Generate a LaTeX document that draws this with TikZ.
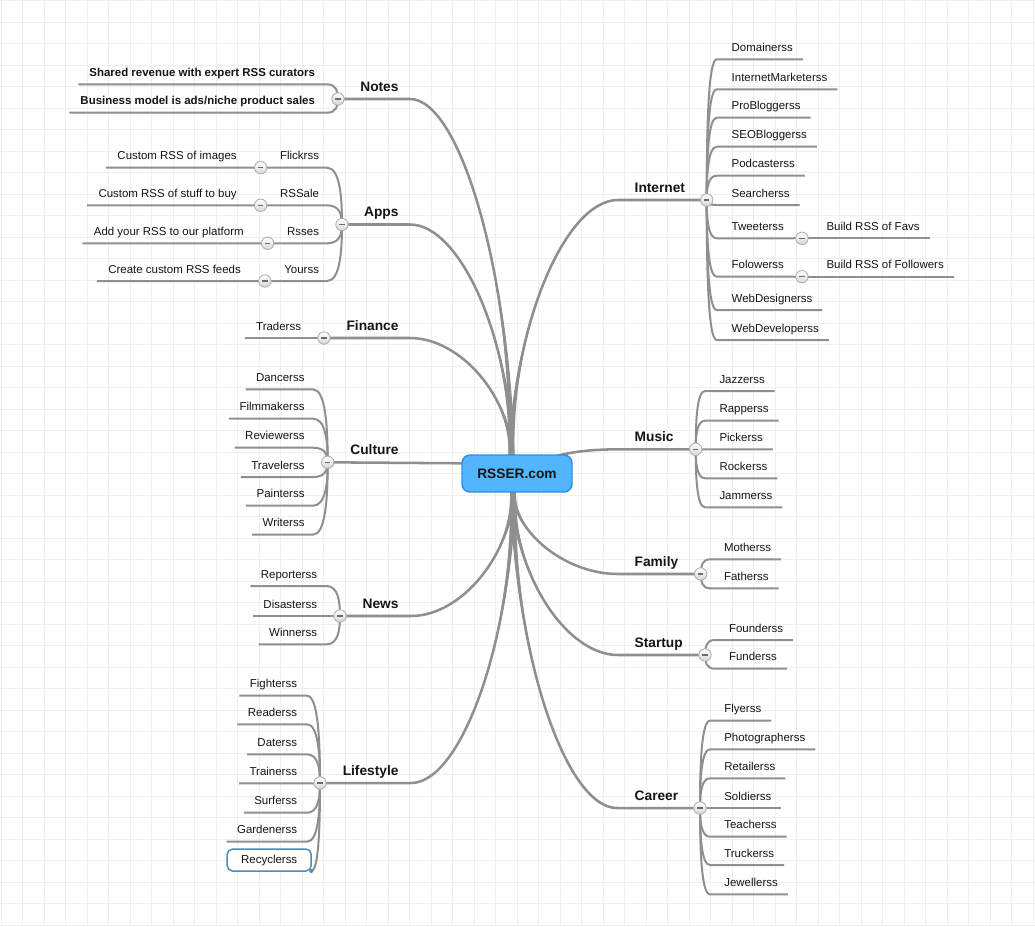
\documentclass[tikz,border=0pt]{standalone}
\usepackage{fontspec}
\setmainfont{Liberation Sans}
\usetikzlibrary{calc,positioning}

\definecolor{linegray}{HTML}{8F8F8F}
\definecolor{ink}{HTML}{151515}
\definecolor{hubfill}{HTML}{52B5FF}
\definecolor{hubedge}{HTML}{2F8FE8}
\definecolor{btnedge}{HTML}{ABABAB}
\definecolor{btngray}{HTML}{D6D6D6}
\definecolor{btnminus}{HTML}{6A6A6A}
\definecolor{gridcol}{HTML}{EEF1E8}
\definecolor{selblue}{HTML}{4B8DB6}

\pgfdeclarelayer{back}
\pgfsetlayers{back,main}

\tikzset{
  hub/.style={rectangle, rounded corners=6pt, draw=hubedge, line width=1.1pt, fill=hubfill,
    minimum width=82.5pt, minimum height=27.75pt, text=ink,
    font=\fontsize{10.3}{12}\selectfont\bfseries},
  topic/.style={inner sep=0pt, outer sep=0pt, text=ink, font=\fontsize{10.3}{12}\selectfont\bfseries},
  leaf/.style={inner sep=0pt, outer sep=0pt, text=ink, font=\fontsize{8.6}{10}\selectfont},
  noteleaf/.style={leaf, font=\fontsize{8.6}{10}\selectfont\bfseries},
  btn/.style={circle, draw=btnedge, line width=0.6pt, top color=white, bottom color=btngray,
    minimum size=9.3pt, inner sep=0pt, outer sep=0pt,
    path picture={\draw[line width=1.1pt, btnminus]
      ([xshift=-2pt]path picture bounding box.center) -- ([xshift=2pt]path picture bounding box.center);}},
  twig/.style={draw=linegray, line width=1.5pt},
  trunk/.style={draw=linegray, line width=1.9pt},
  gridline/.style={draw=gridcol, line width=0.75pt},
  % curve from a hub point out to a topic line
  branch/.style={to path={.. controls ($(\tikztostart)!.5!(\tikztotarget |- \tikztostart)$)
    and ($(\tikztotarget)!.5!(\tikztotarget |- \tikztostart)$) .. (\tikztotarget)}},
  % curve from a button to a child line
  kid/.style={to path={.. controls ($(\tikztostart)!.5!(\tikztostart |- \tikztotarget)$)
    and ($(\tikztotarget)!.85!(\tikztostart |- \tikztotarget)$) .. (\tikztotarget)}},
}

\begin{document}
\begin{tikzpicture}[x=0.75pt, y=-0.75pt]
\useasboundingbox (0,0) rectangle (1035,926);

% grid paper
\begin{pgfonlayer}{back}
\fill[white] (0,0) rectangle (1035,926);
\foreach \i in {0,...,48}
  \draw[gridline] ({1.3+21.5*\i},0) -- ({1.3+21.5*\i},926);
\foreach \j in {0,...,43}
  \draw[gridline] (0,{0.7+21.5*\j}) -- (1035,{0.7+21.5*\j});
\end{pgfonlayer}

% centre
\node[hub] (hub) at (517,473.5) {RSSER.com};
\coordinate (hubT) at (511.5,457);
\coordinate (hubB) at (513,490);
\coordinate (hubL) at (463,463.3);
\coordinate (hubM) at (556,456);

% left topics
\node[topic, anchor=base east] (notes) at (398.5,91) {Notes};
\node[btn] (notesB) at (338,99) {};
\coordinate (notesE) at (410,99);
\node[topic, anchor=base east] (apps) at (398.5,216.5) {Apps};
\node[btn] (appsB) at (342,224.5) {};
\coordinate (appsE) at (410,224.5);
\node[topic, anchor=base east] (fin) at (398.5,330) {Finance};
\node[btn] (finB) at (324,338) {};
\coordinate (finE) at (410,338);
\node[topic, anchor=base east] (cult) at (398.5,454.3) {Culture};
\node[btn] (cultB) at (327.7,462.3) {};
\node[topic, anchor=base east] (news) at (398.5,608) {News};
\node[btn] (newsB) at (340,616) {};
\coordinate (newsE) at (411,616);
\node[topic, anchor=base east] (life) at (398.5,775) {Lifestyle};
\node[btn] (lifeB) at (320,783) {};
\coordinate (lifeE) at (411,783);

% right topics
\node[topic, anchor=base west] (int) at (634.7,192) {Internet};
\node[btn] (intB) at (706.7,200) {};
\coordinate (intE) at (618,200);
\node[topic, anchor=base west] (mus) at (634.7,441.3) {Music};
\node[btn] (musB) at (695.7,449.3) {};
\coordinate (musE) at (620,449.3);
\node[topic, anchor=base west] (fam) at (634.7,566) {Family};
\node[btn] (famB) at (700.7,574) {};
\coordinate (famE) at (618,574);
\node[topic, anchor=base west] (start) at (634.7,647) {Startup};
\node[btn] (startB) at (705,655) {};
\coordinate (startE) at (618,655);
\node[topic, anchor=base west] (car) at (634.7,800) {Career};
\node[btn] (carB) at (700,808) {};
\coordinate (carE) at (617,808);

% main branches
\begin{pgfonlayer}{back}
\foreach \b/\e/\h in {notesB/notesE/hubT, appsB/appsE/hubT, finB/finE/hubT, intB/intE/hubT,
    newsB/newsE/hubB, lifeB/lifeE/hubB, famB/famE/hubB, startB/startE/hubB, carB/carE/hubB}{
  \draw[trunk] (\b.center) -- (\e) to[branch] (\h);
  \fill[linegray] (\e) .. controls ($(\e)!.5!(\h |- \e)$) and ($(\h)!.5!(\h |- \e)$) .. ($(\h)+(-3,0)$)
    -- ($(\h)+(3,0)$) .. controls ($(\h)!.5!(\h |- \e)$) and ($(\e)!.5!(\h |- \e)$) .. (\e) -- cycle;
}
\draw[trunk] (cultB.center) -- (hubL);
\draw[trunk] (musB.center) -- (musE) .. controls (590,449.3) and (572,452) .. (hubM);
\end{pgfonlayer}

% Notes
\node[noteleaf, anchor=base east] (notes1) at (315,76.3) {Shared revenue with expert RSS curators};
\node[noteleaf, anchor=base east] (notes2) at (315,104.7) {Business model is ads/niche product sales};
\coordinate (notesk1) at (327,84.3);
\coordinate (notesk2) at (327,112.7);
\begin{pgfonlayer}{back}
\foreach \i in {1,2}
  \draw[twig] (notesB.center) to[kid] (notesk\i) -- ($(notes\i.base west)+(-11,8)$);
\end{pgfonlayer}

% Apps
\foreach \ly/\txt/\sub [count=\i] in {167.7/Flickrss/Custom RSS of images,
    205.3/RSSale/Custom RSS of stuff to buy, 243.3/Rsses/Add your RSS to our platform,
    281/Yourss/Create custom RSS feeds}{
  \node[leaf, anchor=base east] (app\i) at (319,\ly-8) {\txt};
  \node[btn] (appb\i) at ($(app\i.base west)+(-19.5,8)$) {};
  \node[leaf, anchor=base east] (appsub\i) at ($(appb\i)+(-24,-8)$) {\sub};
  \coordinate (appk\i) at (327,\ly);
  \begin{pgfonlayer}{back}
    \draw[twig] (appsB.center) to[kid] (appk\i) -- (appb\i.center) -- ($(appsub\i.base west)+(-11.5,8)$);
  \end{pgfonlayer}
}

% Finance
\node[leaf, anchor=base east] (fin1) at (301,330) {Traderss};
\begin{pgfonlayer}{back}
\draw[twig] (finB.center) -- ($(fin1.base west)+(-11.5,8)$);
\end{pgfonlayer}

% Culture
\foreach \ly/\txt [count=\i] in {389.3/Dancerss, 418.7/Filmmakerss, 447.7/Reviewerss,
    477/Travelerss, 505.7/Painterss, 534.7/Writerss}{
  \node[leaf, anchor=base east] (cult\i) at (304.5,\ly-8) {\txt};
  \coordinate (cultk\i) at (313,\ly);
  \begin{pgfonlayer}{back}
    \draw[twig] (cultB.center) to[kid] (cultk\i) -- ($(cult\i.base west)+(-10.5,8)$);
  \end{pgfonlayer}
}

% News
\foreach \ly/\txt [count=\i] in {586/Reporterss, 616/Disasterss, 644.3/Winnerss}{
  \node[leaf, anchor=base east] (news\i) at (317,\ly-8) {\txt};
  \coordinate (newsk\i) at (326.5,\ly);
  \begin{pgfonlayer}{back}
    \draw[twig] (newsB.center) to[kid] (newsk\i) -- ($(news\i.base west)+(-10.5,8)$);
  \end{pgfonlayer}
}

% Lifestyle
\foreach \ly/\txt [count=\i] in {695.7/Fighterss, 724.3/Readerss, 754.3/Daterss,
    783.3/Trainerss, 812.7/Surferss, 841.7/Gardenerss}{
  \node[leaf, anchor=base east] (life\i) at (297,\ly-8) {\txt};
  \coordinate (lifek\i) at (307,\ly);
  \begin{pgfonlayer}{back}
    \draw[twig] (lifeB.center) to[kid] (lifek\i) -- ($(life\i.base west)+(-10.5,8)$);
  \end{pgfonlayer}
}
\node[leaf, draw=selblue, line width=1.1pt, rounded corners=4pt, fill=white,
  minimum width=63pt, minimum height=16.5pt, text height=6.2pt, text depth=1.6pt] (life7) at (269.2,860) {Recyclerss};
\fill[selblue] (life7.south east) circle[radius=1.5pt];
\begin{pgfonlayer}{back}
\draw[twig] (lifeB.center) to[kid] (life7.south east);
\end{pgfonlayer}

% Internet
\foreach \ly/\txt [count=\i] in {59.3/Domainerss, 89.3/InternetMarketerss, 117.7/ProBloggerss,
    146.7/SEOBloggerss, 175.7/Podcasterss, 205/Searcherss, 238.3/Tweeterss, 276.7/Folowerss,
    310/WebDesignerss, 340/WebDeveloperss}{
  \node[leaf, anchor=base west] (int\i) at (731.7,\ly-8) {\txt};
  \coordinate (intk\i) at (716.7,\ly);
  \begin{pgfonlayer}{back}
    \draw[twig] (intB.center) to[kid] (intk\i) -- ($(int\i.base east)+(10,8)$);
  \end{pgfonlayer}
}
\foreach \k/\sub in {7/Build RSS of Favs, 8/Build RSS of Followers}{
  \node[btn] (intb\k) at ($(int\k.base east)+(18,8)$) {};
  \node[leaf, anchor=base west] (intsub\k) at ($(intb\k)+(24.6,-8)$) {\sub};
  \begin{pgfonlayer}{back}
    \draw[twig] ($(int\k.base east)+(10,8)$) -- ($(intsub\k.base east)+(10.4,8)$);
  \end{pgfonlayer}
}

% Music
\foreach \ly/\txt [count=\i] in {391/Jazzerss, 420.7/Rapperss, 449.3/Pickerss,
    478.3/Rockerss, 507.3/Jammerss}{
  \node[leaf, anchor=base west] (mus\i) at (719.5,\ly-8) {\txt};
  \coordinate (musk\i) at (705,\ly);
  \begin{pgfonlayer}{back}
    \draw[twig] (musB.center) to[kid] (musk\i) -- ($(mus\i.base east)+(10,8)$);
  \end{pgfonlayer}
}

% Family
\foreach \ly/\txt [count=\i] in {559.3/Motherss, 588.3/Fatherss}{
  \node[leaf, anchor=base west] (fam\i) at (724,\ly-8) {\txt};
  \coordinate (famk\i) at (710,\ly);
  \begin{pgfonlayer}{back}
    \draw[twig] (famB.center) to[kid] (famk\i) -- ($(fam\i.base east)+(10,8)$);
  \end{pgfonlayer}
}

% Startup
\foreach \ly/\txt [count=\i] in {640/Founderss, 668.7/Funderss}{
  \node[leaf, anchor=base west] (start\i) at (729,\ly-8) {\txt};
  \coordinate (startk\i) at (714.5,\ly);
  \begin{pgfonlayer}{back}
    \draw[twig] (startB.center) to[kid] (startk\i) -- ($(start\i.base east)+(10,8)$);
  \end{pgfonlayer}
}

% Career
\foreach \ly/\txt [count=\i] in {720.7/Flyerss, 749.3/Photographerss, 778.3/Retailerss,
    808/Soldierss, 836.7/Teacherss, 865/Truckerss, 894.3/Jewellerss}{
  \node[leaf, anchor=base west] (car\i) at (724.3,\ly-8) {\txt};
  \coordinate (cark\i) at (710,\ly);
  \begin{pgfonlayer}{back}
    \draw[twig] (carB.center) to[kid] (cark\i) -- ($(car\i.base east)+(10,8)$);
  \end{pgfonlayer}
}
\end{tikzpicture}
\end{document}
